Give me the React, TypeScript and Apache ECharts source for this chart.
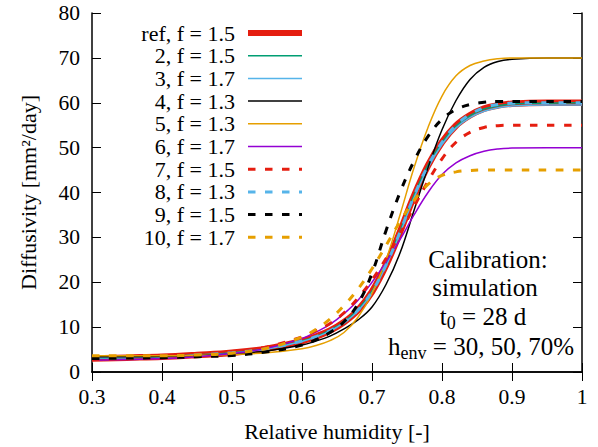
import React, { useEffect, useRef } from "react";
import * as echarts from "echarts";

const humidity = [0.3, 0.35, 0.4, 0.45, 0.5, 0.55, 0.6, 0.62, 0.64, 0.66, 0.68, 0.7, 0.72, 0.74, 0.76, 0.78, 0.8, 0.82, 0.84, 0.86, 0.88, 0.9, 0.95, 1.0];

const seriesNames = [
  "ref, f = 1.5",
  "2, f = 1.5",
  "3, f = 1.7",
  "4, f = 1.3",
  "5, f = 1.3",
  "6, f = 1.7",
  "7, f = 1.5",
  "8, f = 1.3",
  "9, f = 1.5",
  "10, f = 1.7",
];

const refValues = [3.0, 3.2, 3.4, 3.8, 4.3, 5.2, 6.9, 7.9, 9.2, 11.1, 13.8, 17.9, 23.8, 31.2, 39.2, 46, 51.2, 54.9, 57.2, 58.7, 59.4, 59.8, 60, 60];
const run2Values = [3.0, 3.2, 3.4, 3.8, 4.3, 5.2, 6.9, 7.9, 9.3, 11.2, 13.9, 18.0, 24.0, 31.4, 39.4, 46.1, 51.2, 54.8, 57.1, 58.6, 59.3, 59.7, 59.9, 60];
const run3Values = [3.1, 3.2, 3.4, 3.8, 4.2, 5.1, 6.8, 7.8, 9.1, 11.0, 13.6, 17.7, 23.6, 30.9, 38.8, 45.5, 50.7, 54.4, 56.7, 58.1, 58.9, 59.3, 59.5, 59.5];
const run4Values = [3.4, 3.4, 3.5, 3.7, 4.0, 4.7, 6.0, 6.9, 8.0, 9.6, 11.6, 14.5, 19.5, 26.5, 36, 45.5, 54, 60.5, 65.2, 67.9, 69.2, 69.7, 70, 70];
const run5Values = [3.6, 3.6, 3.6, 3.7, 3.9, 4.3, 5.2, 5.9, 7.0, 8.8, 12.2, 17.5, 25, 35, 45.5, 54.5, 61.5, 66, 68.3, 69.3, 69.8, 70, 70, 70];
const run6Values = [2.6, 2.8, 3.0, 3.4, 4.1, 5.3, 7.5, 8.9, 10.6, 13, 16, 20, 24.5, 29.5, 35, 40, 44, 46.6, 48.2, 49.2, 49.7, 49.9, 50, 50];
const run7Values = [2.8, 3.0, 3.3, 3.8, 4.4, 5.6, 7.8, 9.2, 10.8, 13.2, 16.5, 20.5, 25.3, 30.8, 36.8, 42.5, 47.5, 51.2, 53.4, 54.5, 54.9, 55, 55, 55];
const run8Values = [3.0, 3.2, 3.4, 3.8, 4.3, 5.2, 6.9, 7.9, 9.2, 11.1, 13.8, 17.9, 23.8, 31.2, 39.2, 46, 51.2, 55, 57.4, 58.9, 59.6, 59.9, 60, 60];
const run9Values = [3.0, 3.1, 3.2, 3.4, 3.7, 4.5, 6.0, 7.2, 8.8, 11.2, 15.2, 22, 31.5, 40, 47, 52.5, 56.3, 58.5, 59.6, 60.1, 60.3, 60.3, 60.3, 60.3];
const run10Values = [3.6, 3.6, 3.6, 3.8, 4.2, 5.3, 7.8, 9.5, 11.8, 14.8, 18.5, 23, 28.2, 33.5, 38.2, 41.8, 43.8, 44.6, 44.9, 45, 45, 45, 45, 45];

const allValues = [refValues, run2Values, run3Values, run4Values, run5Values, run6Values, run7Values, run8Values, run9Values, run10Values];

const colors = ["#e51e10", "#009e73", "#56b4e9", "#000000", "#e69f00", "#9400d3", "#e51e10", "#56b4e9", "#000000", "#e69f00"];
const widths = [6.5, 1.5, 1.5, 1.5, 1.5, 1.5, 3, 3, 3, 3];
const dashed = [false, false, false, false, false, false, true, true, true, true];

const FONT = "'Liberation Serif', 'DejaVu Serif', serif";

export default function App() {
  const ref = useRef<HTMLDivElement>(null);
  useEffect(() => {
    document.body.style.margin = "0";
    if (!ref.current) return;
    const chart = echarts.init(ref.current, null, { renderer: "svg" });
    const series = allValues.map((vals, i) => ({
      name: seriesNames[i],
      type: "line",
      symbol: "none",
      smooth: 0.4,
      data: humidity.map((h, j) => [h, vals[j]]),
      lineStyle: {
        color: colors[i],
        width: widths[i],
        type: dashed[i] ? [7.5, 9.5] : "solid",
      },
      itemStyle: { color: colors[i] },
      z: 2 + i,
    }));
    const axisCommon = {
      axisLine: { show: true, lineStyle: { color: "#000", width: 1.5 } },
      splitLine: { show: false },
      axisTick: { show: true, inside: true, length: 9, lineStyle: { color: "#000", width: 1 } },
    };
    chart.setOption({
      animation: false,
      textStyle: { fontFamily: FONT },
      grid: { left: 92, top: 13, right: 16, bottom: 73, containLabel: false },
      legend: {
        orient: "vertical",
        align: "right",
        right: 293,
        top: 22,
        padding: 0,
        itemWidth: 54,
        itemHeight: 12,
        itemGap: 0.7,
        selectedMode: false,
        itemStyle: { opacity: 0 },
        textStyle: { fontFamily: FONT, fontSize: 22, color: "#000", lineHeight: 20, padding: [0, 8, 0, 0] },
        data: seriesNames.map((n, i) => ({ name: n, lineStyle: { width: i === 0 ? 6 : widths[i] } })),
      },
      xAxis: [
        {
          type: "value",
          min: 0.3,
          max: 1,
          interval: 0.1,
          name: "Relative humidity [-]",
          nameLocation: "middle",
          nameGap: 48,
          nameTextStyle: { fontFamily: FONT, fontSize: 22, color: "#000" },
          axisLabel: { fontFamily: FONT, fontSize: 21.5, color: "#000", margin: 14 },
          ...axisCommon,
        },
        {
          type: "value",
          position: "top",
          min: 0.3,
          max: 1,
          interval: 0.1,
          axisLabel: { show: false },
          ...axisCommon,
        },
      ],
      yAxis: [
        {
          type: "value",
          min: 0,
          max: 80,
          interval: 10,
          name: "Diffusivity [mm²/day]",
          nameLocation: "middle",
          nameGap: 53,
          nameTextStyle: { fontFamily: FONT, fontSize: 22, color: "#000" },
          axisLabel: { fontFamily: FONT, fontSize: 21.5, color: "#000", margin: 12 },
          ...axisCommon,
        },
        {
          type: "value",
          position: "right",
          min: 0,
          max: 80,
          interval: 10,
          axisLabel: { show: false },
          ...axisCommon,
        },
      ],
      series,
      graphic: [
        {
          type: "text",
          x: 488,
          y: 259,
          style: { text: "Calibration:", font: `25px ${FONT}`, fill: "#000", align: "center", verticalAlign: "middle" },
        },
        {
          type: "text",
          x: 485,
          y: 287,
          style: { text: "simulation", font: `25px ${FONT}`, fill: "#000", align: "center", verticalAlign: "middle" },
        },
        {
          type: "text",
          x: 483,
          y: 316,
          style: {
            text: "{n|t}{s|0}{n| = 28 d}",
            align: "center",
            verticalAlign: "middle",
            rich: {
              n: { fontFamily: FONT, fontSize: 25, lineHeight: 32, fill: "#000", color: "#000" },
              s: { fontFamily: FONT, fontSize: 18, lineHeight: 18, verticalAlign: "bottom", fill: "#000", color: "#000" },
            },
          },
        },
        {
          type: "text",
          x: 481,
          y: 346,
          style: {
            text: "{n|h}{s|env}{n| = 30, 50, 70%}",
            align: "center",
            verticalAlign: "middle",
            rich: {
              n: { fontFamily: FONT, fontSize: 25, lineHeight: 32, fill: "#000", color: "#000" },
              s: { fontFamily: FONT, fontSize: 18, lineHeight: 18, verticalAlign: "bottom", fill: "#000", color: "#000" },
            },
          },
        },
      ],
    });
    return () => chart.dispose();
  }, []);
  return <div ref={ref} style={{ width: 598, height: 447 }} />;
}
